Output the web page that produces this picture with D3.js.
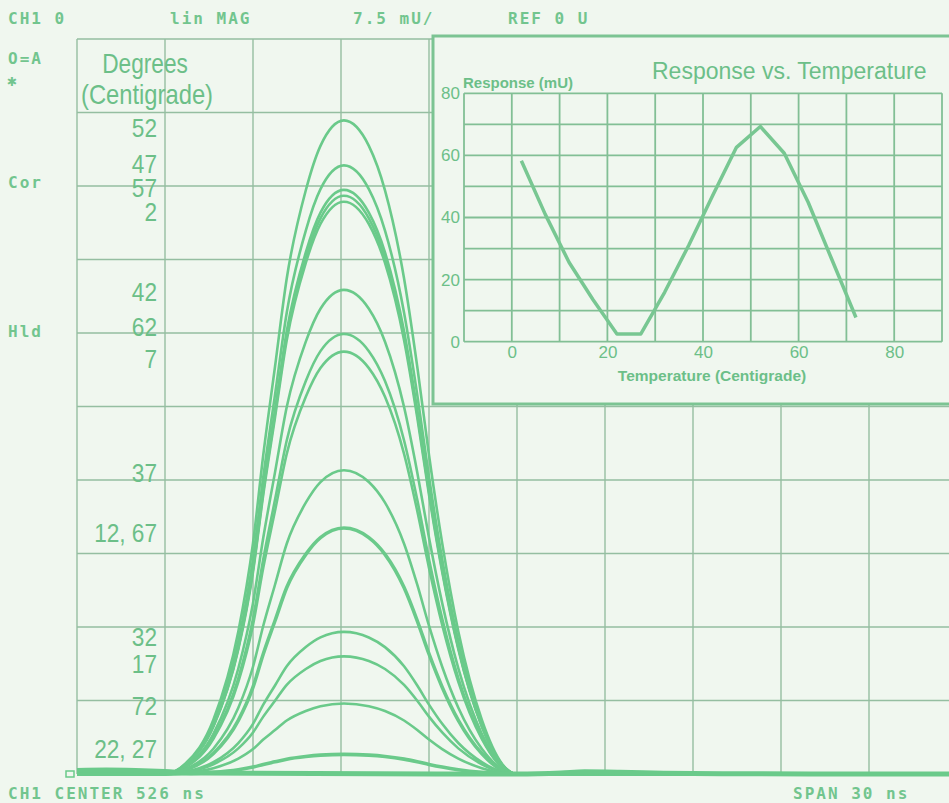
<!DOCTYPE html>
<html>
<head>
<meta charset="utf-8">
<script src="https://cdn.jsdelivr.net/npm/d3@7"></script>
<style>
  body { margin: 0; background: #f0f7ef; }
  svg { display: block; }
  .mono { font-family: "DejaVu Sans Mono", monospace; font-size: 16px; font-weight: bold; fill: #72c58e; letter-spacing: 2px; }
  .narrow { font-family: "Liberation Sans", Arial, sans-serif; fill: #6cbf88; }
  .ins { font-family: "Liberation Sans", Arial, sans-serif; fill: #6cbf88; }
</style>
</head>
<body>
<svg id="chart" width="949" height="803"></svg>
<script>
// ---- main display: time axis in ns, response in mU ----
// one pulse shape (0..1), all traces share it
const pulseNs    = [511, 514.0, 514.7, 515.65, 516.5, 517.0, 517.35, 517.75, 518.15, 518.8, 519.3, 520.1,
                    520.95, 521.5, 522.15, 522.6, 523.0, 523.45, 524.0, 524.8, 525.5, 526.0, 541];
const pulseShape = [0, 0, 0.016, 0.083, 0.218, 0.353, 0.488, 0.623, 0.758, 0.893, 0.961, 1,
                    0.961, 0.893, 0.758, 0.623, 0.488, 0.353, 0.218, 0.083, 0.015, 0, 0];

// peak of every trace (mU), top to bottom
const tracePeaks = [66.7, 62.1, 59.6, 59.0, 58.4, 49.4, 44.9, 43.1, 31.0, 25.1, 14.5, 12.0, 7.2, 2.0];
// traces that are two overlapping sweeps (12/67 and 22/27)
const traceDouble = [false, false, false, false, false, false, false, false, false, true, false, false, false, true];

// small residue along the baseline where all sweeps pile up
const residueNs = [511, 512, 513, 514, 515, 526, 527.5, 528.3, 529.5, 531, 533, 536, 541];
const residueMu = [0.35, 0.4, 0.35, 0.25, 0.1, 0.0, 0.1, 0.22, 0.18, 0.08, 0.03, 0.0, 0.0];

// temperature labels (deg C) and the level they sit at (mU)
const labelText = ["52", "47", "57", "2", "42", "62", "7", "37", "12, 67", "32", "17", "72", "22, 27"];
const labelMu   = [66.0, 62.3, 59.8, 57.4, 49.2, 45.6, 42.4, 30.8, 24.6, 14.0, 11.3, 7.0, 2.6];

// ---- inset: response vs temperature ----
const insetTemp = [2, 7, 12, 17, 22, 27, 32, 37, 42, 47, 52, 57, 62, 67, 72];
const insetResp = [58.3, 41, 25.5, 13.5, 2.5, 2.5, 16, 31, 47, 62.6, 69.3, 60.7, 44.9, 26.3, 7.8];
const insetXTicks = [0, 20, 40, 60, 80];
const insetYTicks = [0, 20, 40, 60, 80];

// header / annotation texts of the analyzer screen
const headerText = ["CH1 0", "lin MAG", "7.5 mU/", "REF 0 U"];
const headerX    = [8, 170, 353, 508];
const sideText   = ["O=A", "Cor", "Hld"];
const sideY      = [58, 182, 331];

const W = 949, H = 803;
const BG = "#f0f7ef", TRACE = "#6aca8a", GRID = "#95bea1";

const svg = d3.select("#chart");
svg.append("rect").attr("width", W).attr("height", H).attr("fill", BG);

const x = d3.scaleLinear().domain([511, 541]).range([77, 957]);
const y = d3.scaleLinear().domain([0, 75]).range([774, 39]);

// grid, 10 x 10 divisions (3 ns and 7.5 mU each)
const grid = svg.append("g").attr("stroke", GRID).attr("stroke-width", 1.4);
grid.selectAll(".v").data(d3.range(0, 11)).enter().append("line")
  .attr("x1", d => x(511 + d * 3)).attr("x2", d => x(511 + d * 3))
  .attr("y1", y(0)).attr("y2", y(75));
grid.selectAll(".h").data(d3.range(0, 11)).enter().append("line")
  .attr("x1", x(511)).attr("x2", x(541))
  .attr("y1", d => y(d * 7.5)).attr("y2", d => y(d * 7.5));

// traces
const line = d3.line().x(d => x(d[0])).y(d => y(d[1])).curve(d3.curveMonotoneX);
svg.append("g").selectAll("path").data(tracePeaks).enter().append("path")
  .attr("d", p => line(pulseNs.map((t, i) => [t, p * pulseShape[i]])))
  .attr("fill", "none").attr("stroke", TRACE)
  .attr("stroke-width", (p, i) => traceDouble[i] ? 3.6 : 2.6);

svg.append("path")
  .attr("d", line(residueNs.map((t, i) => [t, residueMu[i]])))
  .attr("fill", "none").attr("stroke", TRACE).attr("stroke-width", 5);

// reference marker on the left
svg.append("path").attr("d", "M66,771 L74,771 L74,777 L66,777 Z")
  .attr("fill", "none").attr("stroke", TRACE).attr("stroke-width", 1.5);

// temperature labels (condensed face, squeezed horizontally)
svg.append("g").selectAll("text").data(labelText).enter().append("text")
  .attr("class", "narrow").attr("font-size", 26)
  .attr("transform", (d, i) => `translate(157,${y(labelMu[i])}) scale(0.87,1)`)
  .attr("dy", "0.36em").attr("text-anchor", "end").text(d => d);

svg.append("text").attr("class", "narrow").attr("font-size", 27)
  .attr("transform", "translate(145,73) scale(0.84,1)")
  .attr("text-anchor", "middle").text("Degrees");
svg.append("text").attr("class", "narrow").attr("font-size", 27)
  .attr("transform", "translate(147,104) scale(0.88,1)")
  .attr("text-anchor", "middle").text("(Centigrade)");

// ---- inset ----
const inset = svg.append("g");
inset.append("rect").attr("x", 433).attr("y", 36).attr("width", 560).attr("height", 368)
  .attr("fill", BG).attr("stroke", "#7cc493").attr("stroke-width", 3);

const ix = d3.scaleLinear().domain([-10, 90]).range([464, 942]);
const iy = d3.scaleLinear().domain([0, 80]).range([341.7, 93.3]);

const ig = inset.append("g").attr("stroke", "#82bf95").attr("stroke-width", 1.8);
ig.selectAll(".v").data(d3.range(-10, 91, 10)).enter().append("line")
  .attr("x1", d => ix(d)).attr("x2", d => ix(d)).attr("y1", iy(0)).attr("y2", iy(80));
ig.selectAll(".h").data(d3.range(0, 81, 10)).enter().append("line")
  .attr("x1", ix(-10)).attr("x2", ix(90)).attr("y1", d => iy(d)).attr("y2", d => iy(d));

const iline = d3.line().x((d, i) => ix(insetTemp[i])).y(d => iy(d));
inset.append("path").attr("d", iline(insetResp))
  .attr("fill", "none").attr("stroke", "#78c792").attr("stroke-width", 3.5)
  .attr("stroke-linejoin", "round");

const xAx = inset.append("g").attr("transform", `translate(0,${iy(0)})`)
  .call(d3.axisBottom(ix).tickValues(insetXTicks).tickSize(0).tickPadding(4));
const yAx = inset.append("g").attr("transform", `translate(${ix(-10)},0)`)
  .call(d3.axisLeft(iy).tickValues(insetYTicks).tickSize(0).tickPadding(4));
[xAx, yAx].forEach(a => {
  a.select(".domain").remove();
  a.selectAll("text").attr("class", "ins").attr("font-size", 17).attr("fill", "#6cbf88");
});

inset.append("text").attr("class", "ins").attr("font-size", 15).attr("font-weight", "bold")
  .attr("x", 463).attr("y", 88).text("Response (mU)");
inset.append("text").attr("class", "ins").attr("font-size", 23)
  .attr("x", 652).attr("y", 79).text("Response vs. Temperature");
inset.append("text").attr("class", "ins").attr("font-size", 15.5).attr("font-weight", "bold")
  .attr("x", 712).attr("y", 381).attr("text-anchor", "middle").text("Temperature (Centigrade)");

// ---- analyzer annotations ----
svg.append("g").selectAll("text").data(headerText).enter().append("text")
  .attr("class", "mono").attr("x", (d, i) => headerX[i]).attr("y", 24).text(d => d);
svg.append("g").selectAll("text").data(sideText).enter().append("text")
  .attr("class", "mono").attr("x", 8).attr("y", (d, i) => sideY[i] + 6).text(d => d);
svg.append("text").attr("class", "mono").attr("x", 7).attr("y", 86).attr("font-size", 12).text("\u2731");
svg.append("text").attr("class", "mono").attr("x", 8).attr("y", 799).text("CH1 CENTER 526 ns");
svg.append("text").attr("class", "mono").attr("x", 793).attr("y", 799).text("SPAN 30 ns");
</script>
</body>
</html>
